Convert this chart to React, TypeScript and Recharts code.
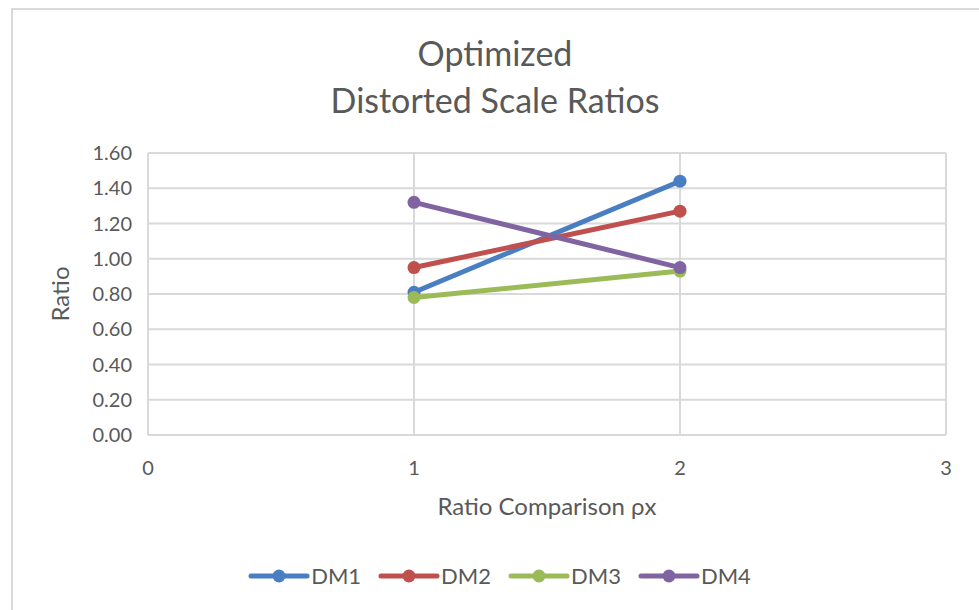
import React from 'react'
import { ScatterChart, Scatter, XAxis, YAxis, CartesianGrid, Label } from 'recharts'

const seriesNames = ['DM1', 'DM2', 'DM3', 'DM4']
const seriesColors = ['#4A7EC2', '#C0504D', '#9BBB59', '#8064A2']
const xValues = [1, 2]
const dm1 = [0.81, 1.44]
const dm2 = [0.95, 1.27]
const dm3 = [0.78, 0.93]
const dm4 = [1.32, 0.95]
const xTicks = [0, 1, 2, 3]
const yTicks = [0, 0.2, 0.4, 0.6, 0.8, 1.0, 1.2, 1.4, 1.6]

const allSeries = [dm1, dm2, dm3, dm4].map((vals, i) => ({
  name: seriesNames[i],
  color: seriesColors[i],
  data: vals.map((v, j) => ({ x: xValues[j], y: v })),
}))

const FONT = 'Lato, "Open Sans", sans-serif'
const GRID = '#d9d9d9'
const TEXT = '#595959'

function LegendRow() {
  return (
    <div style={{ position: 'absolute', top: 564, left: 8, width: 1000, display: 'flex', justifyContent: 'center', fontFamily: FONT, fontSize: 22, color: TEXT, lineHeight: '24px' }}>
      {allSeries.map(s => (
        <div key={s.name} style={{ display: 'flex', alignItems: 'center', marginRight: 17 }}>
          <svg width={62} height={24}>
            <line x1={3} y1={12} x2={59} y2={12} stroke={s.color} strokeWidth={5} strokeLinecap="round" />
            <circle cx={31} cy={12} r={6.5} fill={s.color} />
          </svg>
          <span style={{ marginLeft: 1 }}>{s.name}</span>
        </div>
      ))}
    </div>
  )
}

export default function App() {
  return (
    <div style={{ position: 'absolute', left: 0, top: 0, width: 979, height: 610, background: '#fff', overflow: 'hidden' }}>
      <div style={{ position: 'absolute', left: 11, top: 8, width: 1000, height: 700, borderLeft: `2px solid ${GRID}`, borderTop: `2px solid ${GRID}` }} />
      <div style={{ position: 'absolute', top: 29, left: 0, width: 990, textAlign: 'center', fontFamily: FONT, fontSize: 34, color: TEXT, lineHeight: '47px' }}>
        Optimized<br />Distorted Scale Ratios
      </div>
      <ScatterChart width={979} height={610} margin={{ top: 153, right: 33, bottom: 93, left: 68 }} style={{ position: 'absolute', left: 0, top: 0 }}>
        <CartesianGrid stroke={GRID} strokeWidth={2} />
        <XAxis
          type="number"
          dataKey="x"
          domain={[0, 3]}
          ticks={xTicks}
          tickLine={false}
          axisLine={false}
          tickMargin={20}
          tick={{ fill: TEXT, fontSize: 20, fontFamily: FONT }}
          height={82}
        >
          <Label value="Ratio Comparison ρx" position="insideBottom" offset={2} style={{ fill: TEXT, fontSize: 24, fontFamily: FONT }} />
        </XAxis>
        <YAxis
          type="number"
          dataKey="y"
          domain={[0, 1.6]}
          ticks={yTicks}
          tickLine={false}
          axisLine={false}
          tickMargin={10}
          tickFormatter={(v: number) => v.toFixed(2)}
          tick={{ fill: TEXT, fontSize: 20, fontFamily: FONT }}
          width={80}
        >
          <Label value="Ratio" angle={-90} position="insideLeft" offset={0} dx={-8} style={{ fill: TEXT, fontSize: 24, fontFamily: FONT, textAnchor: 'middle' }} />
        </YAxis>
        {allSeries.map(s => (
          <Scatter
            key={s.name}
            name={s.name}
            data={s.data}
            fill={s.color}
            line={{ stroke: s.color, strokeWidth: 5 }}
            shape={(p: any) => <circle cx={p.cx} cy={p.cy} r={6.5} fill={s.color} />}
            isAnimationActive={false}
          />
        ))}
      </ScatterChart>
      <LegendRow />
    </div>
  )
}
